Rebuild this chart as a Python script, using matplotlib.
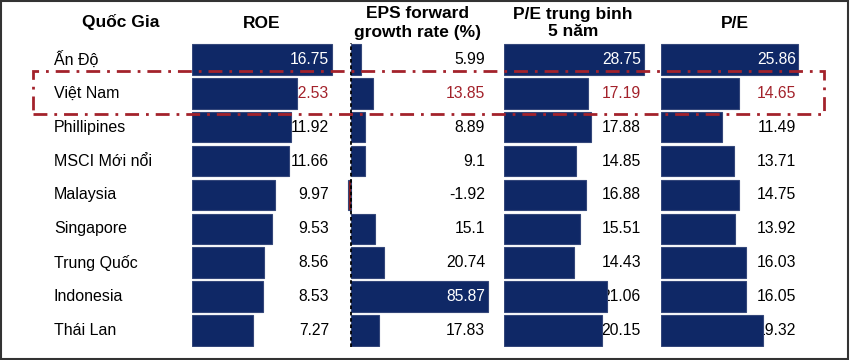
import matplotlib.pyplot as plt
from matplotlib.patches import Rectangle

plt.rcParams['font.family'] = ['Liberation Sans', 'DejaVu Sans']

countries = ['Ấn Độ', 'Việt Nam', 'Phillipines', 'MSCI Mới nổi', 'Malaysia',
             'Singapore', 'Trung Quốc', 'Indonesia', 'Thái Lan']
roe = [16.75, 12.53, 11.92, 11.66, 9.97, 9.53, 8.56, 8.53, 7.27]
eps_growth = [5.99, 13.85, 8.89, 9.1, -1.92, 15.1, 20.74, 85.87, 17.83]
pe_5y = [28.75, 17.19, 17.88, 14.85, 16.88, 15.51, 14.43, 21.06, 20.15]
pe = [25.86, 14.65, 11.49, 13.71, 14.75, 13.92, 16.03, 16.05, 19.32]

headers = ['ROE', 'EPS forward\ngrowth rate (%)', 'P/E trung binh\n5 năm', 'P/E']
columns = [roe, eps_growth, pe_5y, pe]

navy = '#0f2866'
red = '#a3222b'
W, H = 850, 360

fig = plt.figure(figsize=(8.5, 3.6), dpi=100)

# pixel layout per column: axes left, axes right, x of zero, px per unit, label right edge, header centre
layout = [(192.3, 336, 192.3, 8.32, 329, 262),
          (340, 490, 351, 1.59, 485, 417),
          (504.3, 650, 504.3, 4.86, 641, 573),
          (660.7, 805, 660.7, 5.32, 796, 735)]
top, bottom = 42.6, 347.2
n = len(countries)

def fx(px):
    return px / W

def fy(py):
    return 1 - py / H

for vals, head, (x0, x1, z, scale, lab, hx) in zip(columns, headers, layout):
    ax = fig.add_axes([fx(x0), fy(bottom), fx(x1 - x0), (bottom - top) / H])
    ax.set_xlim((x0 - z) / scale, (x1 - z) / scale)
    ax.set_ylim(n - 0.5, -0.5)
    ax.axis('off')
    colors = [navy if v >= 0 else '#8b1a1a' for v in vals]
    ax.barh(range(n), vals, height=0.9, color=colors, edgecolor='#34477a',
            linewidth=0.8, zorder=3)
    if min(vals) < 0:
        ax.axvline(0, color='black', ls=(0, (2, 1.5)), lw=1.3, zorder=4)
    vmax = max(vals)
    lx = (lab - z) / scale
    for i, v in enumerate(vals):
        if v == vmax:
            c, zo = 'white', 5
        elif i == 1:
            c, zo = red, 2
        else:
            c, zo = 'black', 2
        ax.text(lx, i, f'{v:g}', ha='right', va='center', fontsize=11.3,
                color=c, zorder=zo)
    fig.text(fx(hx), fy(23), head, ha='center', va='center', fontsize=12.5,
             fontweight='bold', linespacing=1.25)

fig.text(fx(121), fy(22.5), 'Quốc Gia', ha='center', va='center',
         fontsize=12.5, fontweight='bold')
row_h = (bottom - top) / n
for i, c in enumerate(countries):
    fig.text(fx(54), fy(top + row_h * (i + 0.5)), c, ha='left', va='center',
             fontsize=11.5)

# highlight box around Viet Nam row
fig.add_artist(Rectangle((fx(33), fy(114)), fx(824 - 33), (114 - 71) / H,
                         fill=False, edgecolor=red, lw=2,
                         ls=(0, (5, 2.5, 1, 2.5)), transform=fig.transFigure,
                         zorder=10))
# outer frame
fig.add_artist(Rectangle((0.001, 0.002), 0.997, 0.995, fill=False,
                         edgecolor='#333333', lw=1.5, transform=fig.transFigure))

fig.savefig('out.png', dpi=100, facecolor='white')
